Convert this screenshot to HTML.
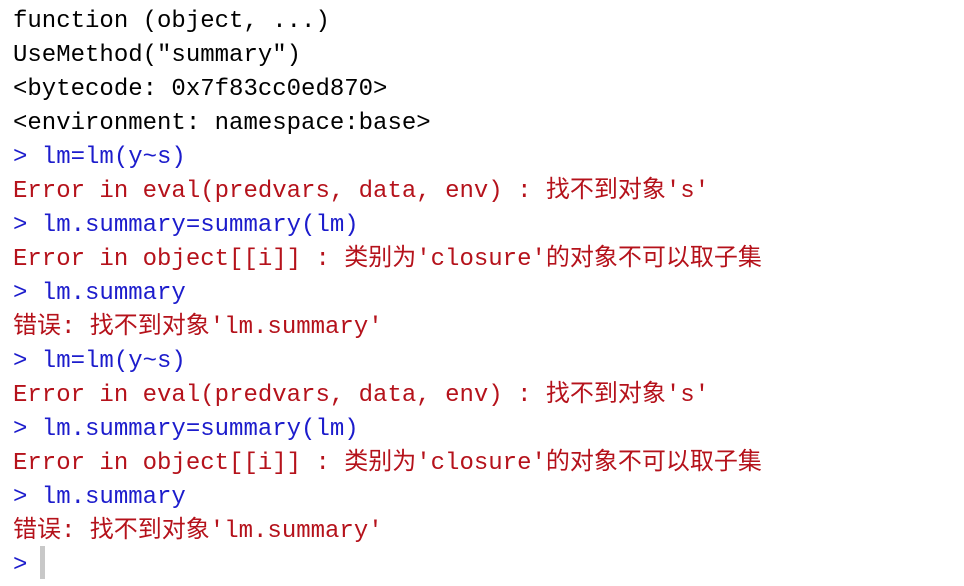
<!DOCTYPE html>
<html><head><meta charset="utf-8"><style>
html,body{margin:0;padding:0;background:#fff;width:964px;height:586px;overflow:hidden}
.c{position:absolute;left:13px;top:5px;font-family:"Liberation Mono","Noto Sans CJK SC",monospace;font-size:24px;line-height:34px;white-space:pre;color:#000}
.b{color:#1c1ccc}.r{color:#b5121b}
.cur{position:absolute;left:40px;top:546px;width:5px;height:33px;background:#c8c8c8}
</style></head><body>
<div class="c"><div>function (object, ...)</div><div>UseMethod("summary")</div><div>&lt;bytecode: 0x7f83cc0ed870&gt;</div><div>&lt;environment: namespace:base&gt;</div><div class="b">&gt; lm=lm(y~s)</div><div class="r">Error in eval(predvars, data, env) : 找不到对象's'</div><div class="b">&gt; lm.summary=summary(lm)</div><div class="r">Error in object[[i]] : 类别为'closure'的对象不可以取子集</div><div class="b">&gt; lm.summary</div><div class="r">错误: 找不到对象'lm.summary'</div><div class="b">&gt; lm=lm(y~s)</div><div class="r">Error in eval(predvars, data, env) : 找不到对象's'</div><div class="b">&gt; lm.summary=summary(lm)</div><div class="r">Error in object[[i]] : 类别为'closure'的对象不可以取子集</div><div class="b">&gt; lm.summary</div><div class="r">错误: 找不到对象'lm.summary'</div><div class="b">&gt;</div></div>
<div class="cur"></div>
</body></html>
